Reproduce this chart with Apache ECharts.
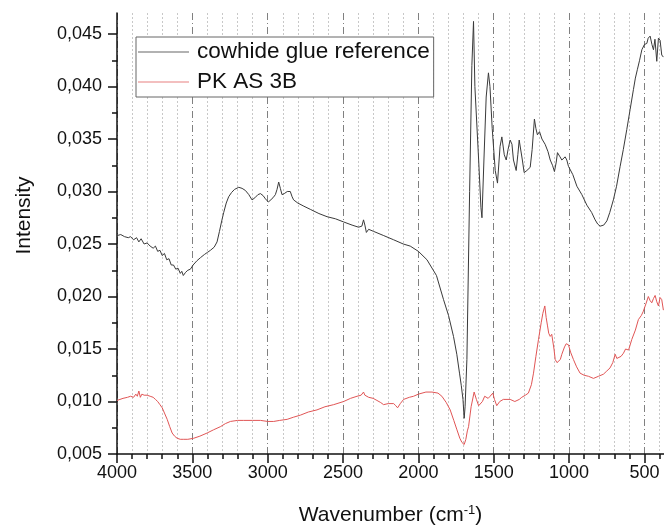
<!DOCTYPE html>
<html>
<head>
<meta charset="utf-8">
<script src="https://cdn.jsdelivr.net/npm/echarts@6/dist/echarts.min.js"></script>
<style>html,body{margin:0;padding:0;background:#fff;}#c{width:664px;height:526px;}</style>
</head>
<body>
<div id="c"></div>
<script>
const seriesNames = ['cowhide glue reference', 'PK AS 3B'];
const xMajorTicks = [500, 1000, 1500, 2000, 2500, 3000, 3500, 4000];
const xMinorTicks = [400, 600, 700, 800, 900, 1100, 1200, 1300, 1400, 1600, 1700, 1800, 1900, 2100, 2200, 2300, 2400, 2600, 2700, 2800, 2900, 3100, 3200, 3300, 3400, 3600, 3700, 3800, 3900];
const yMajorTicks = [0.005, 0.010, 0.015, 0.020, 0.025, 0.030, 0.035, 0.040, 0.045];
const yMinorTicks = [0.0075, 0.0125, 0.0175, 0.0225, 0.0275, 0.0325, 0.0375, 0.0425];

const glueSpectrum = [[4000,.0258],[3975,.0259],[3950,.0257],[3925,.0256],[3910,.0257],[3890,.0254],[3870,.0256],[3855,.0252],[3840,.0255],[3820,.0250],[3800,.0251],[3780,.0248],[3760,.0246],[3745,.0248],[3730,.0243],[3715,.0244],[3700,.0239],[3685,.0241],[3670,.0235],[3655,.0236],[3640,.0230],[3625,.0230],[3610,.0226],[3595,.0227],[3580,.0222],[3570,.0224],[3560,.0220],[3545,.0223],[3530,.0225],[3513,.0226],[3495,.0230],[3470,.0234],[3446,.0237],[3420,.0240],[3400,.0242],[3380,.0244],[3355,.0247],[3336,.0252],[3320,.0262],[3305,.0272],[3292,.0280],[3275,.0289],[3259,.0295],[3240,.0299],[3220,.0302],[3192,.0304],[3170,.0303],[3148,.0301],[3125,.0297],[3104,.0292],[3085,.0294],[3065,.0297],[3048,.0298],[3030,.0296],[3015,.0293],[2995,.0290],[2982,.0289],[2965,.0294],[2949,.0297],[2938,.0302],[2927,.0309],[2916,.0303],[2905,.0297],[2890,.0298],[2870,.0300],[2850,.0300],[2838,.0295],[2828,.0292],[2800,.0289],[2760,.0286],[2717,.0283],[2660,.0279],[2606,.0276],[2550,.0274],[2496,.0271],[2440,.0268],[2397,.0266],[2375,.0267],[2364,.0273],[2355,.0268],[2345,.0261],[2330,.0264],[2297,.0262],[2230,.0258],[2164,.0254],[2100,.0250],[2054,.0248],[2000,.0243],[1943,.0235],[1880,.0220],[1833,.0197],[1800,.0182],[1767,.0162],[1745,.0145],[1727,.0127],[1715,.0115],[1704,.0102],[1696,.0084],[1690,.0095],[1678,.0140],[1660,.0300],[1645,.0420],[1634,.0462],[1625,.0400],[1600,.0330],[1585,.0285],[1578,.0275],[1565,.0330],[1550,.0390],[1535,.0413],[1525,.0400],[1510,.0360],[1490,.0320],[1475,.0308],[1458,.0343],[1446,.0352],[1430,.0335],[1417,.0330],[1405,.0340],[1391,.0349],[1379,.0345],[1369,.0330],[1351,.0320],[1340,.0335],[1331,.0349],[1324,.0348],[1310,.0330],[1298,.0318],[1280,.0320],[1269,.0321],[1258,.0323],[1245,.0340],[1230,.0369],[1220,.0360],[1210,.0354],[1196,.0357],[1180,.0350],[1159,.0345],[1140,.0338],[1125,.0330],[1110,.0325],[1097,.0319],[1085,.0328],[1077,.0337],[1060,.0333],[1048,.0330],[1036,.0330],[1026,.0333],[1015,.0330],[1004,.0324],[975,.0316],[948,.0305],[915,.0297],[882,.0287],[850,.0280],[827,.0273],[810,.0269],[794,.0267],[770,.0268],[749,.0272],[730,.0280],[706,.0292],[685,.0305],[661,.0324],[640,.0340],[617,.0359],[595,.0378],[573,.0397],[560,.0408],[547,.0416],[532,.0425],[517,.0435],[500,.0440],[484,.0441],[475,.0446],[462,.0448],[450,.0440],[440,.0435],[430,.0445],[418,.0424],[407,.0446],[396,.0444],[385,.0430],[374,.0428]];

const sampleSpectrum = [[4000,.0101],[3960,.0103],[3930,.0104],[3910,.0105],[3890,.0104],[3875,.0107],[3865,.0105],[3855,.0110],[3845,.0104],[3835,.0107],[3820,.0106],[3800,.0106],[3780,.0105],[3760,.0104],[3745,.0102],[3730,.0100],[3715,.0097],[3700,.0094],[3685,.0089],[3667,.0083],[3650,.0076],[3634,.0070],[3618,.0067],[3601,.0065],[3580,.0064],[3557,.0064],[3530,.0064],[3491,.0065],[3450,.0067],[3402,.0070],[3360,.0073],[3314,.0076],[3280,.0079],[3247,.0081],[3200,.0082],[3159,.0082],[3100,.0082],[3048,.0082],[3000,.0081],[2960,.0081],[2920,.0082],[2871,.0083],[2830,.0085],[2783,.0087],[2730,.0090],[2673,.0092],[2620,.0095],[2562,.0097],[2496,.0100],[2450,.0103],[2407,.0105],[2380,.0106],[2364,.0109],[2355,.0106],[2330,.0104],[2300,.0103],[2275,.0101],[2250,.0099],[2231,.0097],[2200,.0098],[2164,.0098],[2150,.0096],[2138,.0094],[2120,.0098],[2098,.0102],[2060,.0104],[2032,.0105],[2000,.0107],[1950,.0109],[1910,.0109],[1870,.0108],[1844,.0105],[1815,.0099],[1789,.0092],[1765,.0082],[1744,.0073],[1725,.0065],[1711,.0061],[1696,.0059],[1685,.0064],[1675,.0072],[1667,.0076],[1650,.0095],[1630,.0109],[1615,.0102],[1600,.0096],[1590,.0095],[1575,.0100],[1560,.0105],[1550,.0106],[1537,.0103],[1524,.0105],[1506,.0108],[1495,.0102],[1480,.0096],[1460,.0100],[1436,.0102],[1391,.0102],[1360,.0100],[1347,.0099],[1330,.0102],[1314,.0104],[1290,.0106],[1270,.0108],[1250,.0116],[1236,.0127],[1220,.0143],[1203,.0159],[1185,.0175],[1174,.0184],[1161,.0191],[1152,.0180],[1143,.0172],[1135,.0165],[1125,.0162],[1115,.0164],[1107,.0163],[1100,.0150],[1092,.0140],[1080,.0137],[1070,.0136],[1058,.0140],[1048,.0145],[1030,.0152],[1019,.0155],[1004,.0154],[990,.0147],[971,.0140],[950,.0133],[927,.0127],[900,.0125],[871,.0124],[838,.0122],[805,.0124],[772,.0126],[750,.0129],[728,.0132],[710,.0137],[694,.0145],[683,.0141],[672,.0140],[655,.0143],[639,.0146],[625,.0150],[617,.0151],[605,.0149],[595,.0148],[584,.0159],[560,.0168],[540,.0178],[520,.0182],[507,.0186],[490,.0193],[474,.0200],[462,.0196],[451,.0194],[440,.0198],[429,.0201],[418,.0195],[407,.0191],[396,.0199],[385,.0197],[374,.0187]];

const FONT = "'Liberation Sans', Arial, sans-serif";
const chart = echarts.init(document.getElementById('c'), null, {renderer: 'canvas'});
const xCommon = {type: 'value', inverse: true, min: 370, max: 4000, position: 'bottom'};
const yCommon = {type: 'value', min: 0.005, max: 0.047, position: 'left'};
chart.setOption({
  animation: false,
  backgroundColor: '#fff',
  grid: {left: 117, right: 0, top: 13, bottom: 72, containLabel: false, outerBoundsMode: 'none'},
  legend: {
    orient: 'vertical', left: 136, top: 37,
    data: seriesNames.map(n => ({name: n, icon: 'rect'})),
    itemWidth: 51, itemHeight: 1.2, itemGap: 4,
    padding: [2, 4, 2, 2],
    borderColor: '#666', borderWidth: 1, backgroundColor: '#fff',
    textStyle: {fontFamily: FONT, fontSize: 22.5, color: '#111', lineHeight: 26, padding: [0, 0, 0, 3]}
  },
  xAxis: [
    Object.assign({}, xCommon, {
      name: 'Wavenumber (cm{sup|-1})', nameLocation: 'middle', nameGap: 50,
      nameTextStyle: {fontFamily: FONT, fontSize: 21, color: '#111', rich: {sup: {fontFamily: FONT, fontSize: 13, verticalAlign: 'top', padding: [0, 0, 10, 0], color: '#111'}}},
      axisLine: {show: true, onZero: false, lineStyle: {color: '#111', width: 1.5}},
      axisTick: {show: true, inside: false, length: 9, customValues: xMajorTicks, lineStyle: {color: '#111', width: 1.5}},
      axisLabel: {show: true, customValues: xMajorTicks, margin: 10, fontFamily: FONT, fontSize: 18, color: '#111', formatter: v => String(v)},
      splitLine: {show: true, lineStyle: {color: '#808080', width: 1, type: [7, 3, 1, 3]}},
      minorTick: {show: false}
    }),
    Object.assign({}, xCommon, {
      axisLine: {show: false},
      axisTick: {show: true, inside: false, length: 5, customValues: xMinorTicks, lineStyle: {color: '#111', width: 1.5}},
      axisLabel: {show: false, customValues: xMinorTicks},
      splitLine: {show: true, lineStyle: {color: '#c8c8c8', width: 1, type: [2, 2]}}
    })
  ],
  yAxis: [
    Object.assign({}, yCommon, {
      name: 'Intensity', nameLocation: 'middle', nameGap: 82,
      nameTextStyle: {fontFamily: FONT, fontSize: 21, color: '#111', padding: [0, 0, 0, 36]},
      axisLine: {show: true, onZero: false, lineStyle: {color: '#111', width: 1.5}},
      axisTick: {show: true, inside: false, length: 9, customValues: yMajorTicks, lineStyle: {color: '#111', width: 1.5}},
      axisLabel: {show: true, customValues: yMajorTicks, margin: 15, fontFamily: FONT, fontSize: 18, color: '#111',
        formatter: v => v.toFixed(3).replace('.', ',')},
      splitLine: {show: false}
    }),
    Object.assign({}, yCommon, {
      axisLine: {show: false},
      axisTick: {show: true, inside: false, length: 5, customValues: yMinorTicks, lineStyle: {color: '#111', width: 1.5}},
      axisLabel: {show: false, customValues: yMinorTicks},
      splitLine: {show: false}
    })
  ],
  series: [
    {name: seriesNames[0], type: 'line', data: glueSpectrum, xAxisIndex: 0, yAxisIndex: 0,
     symbol: 'none', showSymbol: false, lineStyle: {color: '#3a3a3a', width: 1}, itemStyle: {color: '#666'}, z: 3},
    {name: seriesNames[1], type: 'line', data: sampleSpectrum, xAxisIndex: 0, yAxisIndex: 0,
     symbol: 'none', showSymbol: false, lineStyle: {color: '#e05555', width: 1}, itemStyle: {color: '#e88080'}, z: 2}
  ]
});
</script>
</body>
</html>
